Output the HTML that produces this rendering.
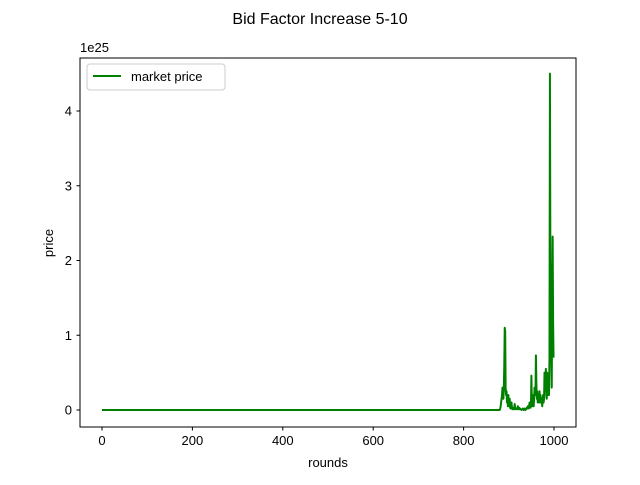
<!DOCTYPE html>
<html><head><meta charset="utf-8"><style>
body{margin:0;background:#fff;}
svg text{font-family:"Liberation Sans","DejaVu Sans",sans-serif;fill:#000;}
</style></head><body>
<svg id="chart" width="640" height="480">
<rect width="640" height="480" fill="#fff"/>
<text x="320" y="24" font-size="16" text-anchor="middle">Bid Factor Increase 5-10</text>
<g id="plot"></g>
<rect x="80" y="58" width="496" height="369" fill="none" stroke="#000" stroke-width="1"/>
<text x="80" y="52" font-size="13">1e25</text>
<text x="328" y="467" font-size="13" text-anchor="middle">rounds</text>
<text x="53" y="243" font-size="13" text-anchor="middle" transform="rotate(-90 53 243)">price</text>
<g>
<rect x="87" y="64" width="138" height="26" rx="3" fill="#fff" stroke="#ccc"/>
<line x1="93" y1="76" x2="121" y2="76" stroke="#008000" stroke-width="2"/>
<text x="131" y="81" font-size="13">market price</text>
</g>
</svg>
<script>
const xTicks=[0,200,400,600,800,1000];
const yTicks=[0,1,2,3,4];
const baselineValue=0;
const baselineCount=880;
const tailValues=[0,0.02,0.05,0.1,0.15,0.2,0.3,0.25,0.15,0.28,
0.6,1.1,1.05,0.3,0.2,0.25,0.1,0.15,0.05,0.2,
0.1,0.05,0.15,0.03,0.02,0.05,0.1,0.02,0.01,0.03,
0.02,0.01,0.01,0.08,0.03,0.02,0.01,0.02,0.01,0.02,
0.05,0.02,0.01,0.03,0.01,0.02,0.01,0.01,0,0.01,
0.01,0.02,0.01,0,0.01,0.02,0.01,0,0.01,0.02,
0.03,0.02,0.05,0.04,0.02,0.06,0.1,0.05,0.03,0.05,
0.46,0.1,0.05,0.2,0.1,0.05,0.15,0.3,0.25,0.2,
0.73,0.35,0.15,0.25,0.1,0.2,0.15,0.1,0.25,0.1,
0.2,0.15,0.1,0.1,0.05,0.15,0.2,0.1,0.15,0.5,
0.3,0.25,0.55,0.2,0.15,0.5,0.3,0.2,0.25,0.2,
0.7,4.5,2.0,1.2,0.8,0.3,1.5,2.32,1.2,0.7];
const prices=new Array(baselineCount).fill(baselineValue).concat(tailValues);
const xS=v=>102+v*0.452;
const yS=v=>410-v*74.75;
const ns="http://www.w3.org/2000/svg";
const g=document.getElementById('plot');
function mk(t,a){const e=document.createElementNS(ns,t);for(const k in a)e.setAttribute(k,a[k]);g.appendChild(e);return e;}
xTicks.forEach(v=>{
 const l=mk('line',{x1:xS(v),x2:xS(v),y1:427,y2:430.5,stroke:'#000'});
 
 
 const t=mk('text',{x:xS(v),y:445,'font-size':13,'text-anchor':'middle'});t.textContent=v;
 
 
});
yTicks.forEach(v=>{
 const l=mk('line',{x1:76.5,x2:80,y1:yS(v),y2:yS(v),stroke:'#000'});
 
 
 const t=mk('text',{x:72,y:yS(v)+4.5,'font-size':13,'text-anchor':'end'});t.textContent=v;
 
 
});
const pts=prices.map((p,i)=>xS(i).toFixed(2)+','+yS(p).toFixed(2)).join(' ');
const line=mk('polyline',{points:pts,fill:'none',stroke:'#008000','stroke-width':2,'stroke-linejoin':'round'});


</script>
</body></html>
